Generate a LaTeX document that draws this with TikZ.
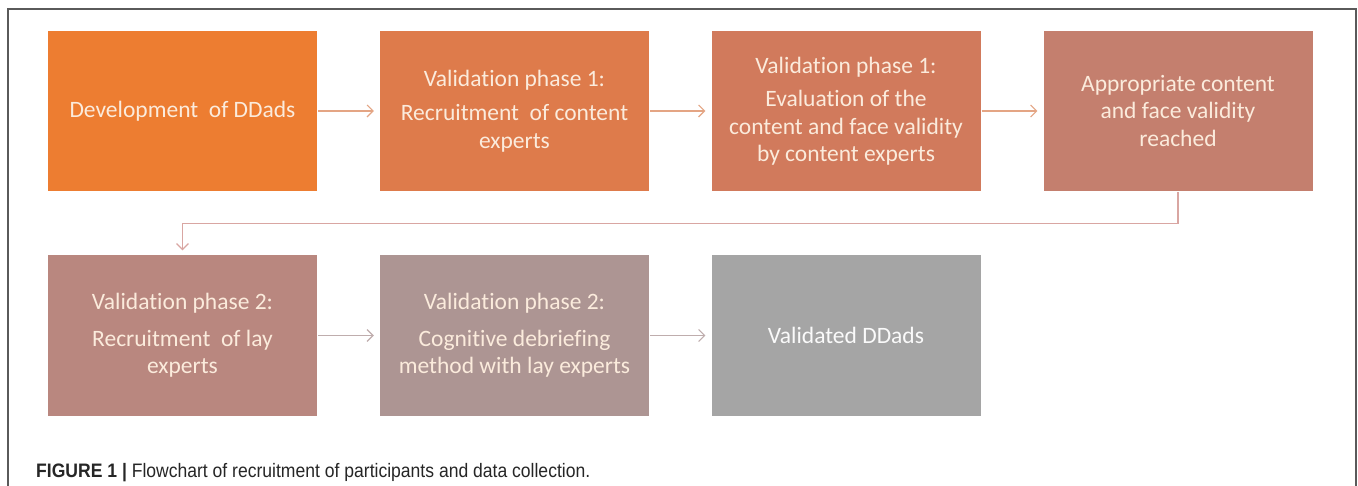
\documentclass[tikz,border=0pt]{standalone}
\usepackage{fontspec}
\setmainfont{Carlito}[Ligatures=NoCommon]
\newfontfamily\capfont[FakeStretch=0.9]{Liberation Sans}
\usetikzlibrary{arrows.meta}
\definecolor{cA}{HTML}{ED7D31}
\definecolor{cB}{HTML}{DE7B4B}
\definecolor{cC}{HTML}{D17A5C}
\definecolor{cD}{HTML}{C47F6E}
\definecolor{cE}{HTML}{B9877F}
\definecolor{cF}{HTML}{AD9593}
\definecolor{cG}{HTML}{A5A5A5}
\definecolor{boxtext}{HTML}{FBEBDC}
\definecolor{arrowA}{HTML}{E4A584}
\definecolor{arrowB}{HTML}{D9A6A2}
\definecolor{arrowC}{HTML}{BFADAD}
\definecolor{framegray}{HTML}{5A5A5A}
\tikzset{
  stagebox/.style={draw=none, minimum width=269pt, minimum height=160pt,
    inner sep=0pt, align=center, text=boxtext,
    font=\fontsize{23.5}{27.5}\selectfont},
  flowarrow/.style={line width=1.1pt, -{Straight Barb[length=6pt,width=12pt,line width=1.1pt]},
    shorten >=6pt, shorten <=1pt}
}
\begin{document}
\begin{tikzpicture}[x=1pt,y=-1pt]
\useasboundingbox (0,0) rectangle (1358,486);
\fill[white] (0,0) rectangle (1358,486);
% outer frame, open at the bottom
\draw[framegray, line width=1.4pt] (8,486) -- (8,9) -- (1356,9) -- (1356,486);

% first row
\node[stagebox, fill=cA] (b1) at (182.5,111) {Development\ \ of DDads};
\node[stagebox, fill=cB] (b2) at (514.5,111) {Validation phase 1:\\[7pt]Recruitment\ \ of content\\experts};
\node[stagebox, fill=cC] (b3) at (846,111) {Validation phase 1:\\[6pt]Evaluation of the\\content and face validity\\by content experts};
\node[stagebox, fill=cD] (b4) at (1178,111) {Appropriate content\\and face validity\\reached};

% second row
\node[stagebox, fill=cE] (b5) at (182.5,335.5) {Validation phase 2:\\[9pt]Recruitment\ \ of lay\\experts};
\node[stagebox, fill=cF] (b6) at (514.5,335.5) {Validation phase 2:\\[9pt]Cognitive debriefing\\method with lay experts};
\node[stagebox, fill=cG, text=white!94!cG] (b7) at (846,335.5) {Validated DDads};

% connectors
\draw[flowarrow, arrowA] (b1.east) -- (b2.west);
\draw[flowarrow, arrowA] (b2.east) -- (b3.west);
\draw[flowarrow, arrowA] (b3.east) -- (b4.west);
\draw[flowarrow, arrowB, shorten >=5pt] (b4.south) -- ++(0,32) -| (b5.north);
\draw[flowarrow, arrowC] (b5.east) -- (b6.west);
\draw[flowarrow, arrowC] (b6.east) -- (b7.west);

% caption
\node[anchor=base west, inner sep=0pt, text=black!85, font=\capfont\fontsize{19.5}{22}\selectfont] (cap) at (36,477)
  {\textbf{FIGURE 1 |} Flowchart of recruitment of participants and data collection.};
\end{tikzpicture}
\end{document}
